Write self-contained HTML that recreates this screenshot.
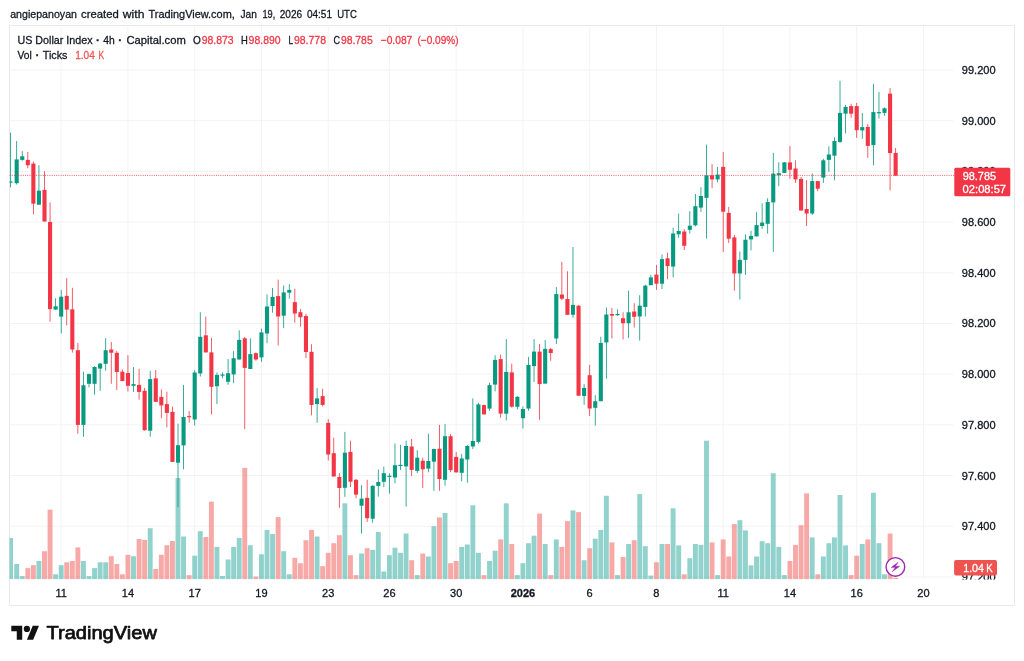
<!DOCTYPE html>
<html lang="en"><head><meta charset="utf-8"><title>US Dollar Index chart</title>
<style>html,body{margin:0;padding:0;background:#fff;}body{width:1024px;height:661px;overflow:hidden;position:relative;font-family:"Liberation Sans",sans-serif;}svg{filter:blur(.35px);position:absolute;left:0;top:0;display:block}text{font-family:"Liberation Sans",sans-serif;fill:#131722;stroke:#131722;stroke-width:.3px}</style>
</head><body>
<svg width="1024" height="661" viewBox="0 0 1024 661">
<rect x="0" y="0" width="1024" height="661" fill="#fff"/>
<defs><clipPath id="pane"><rect x="9.5" y="25.5" width="944" height="554"/></clipPath><clipPath id="pax"><rect x="950" y="25.5" width="64" height="553.9"/></clipPath></defs>
<g stroke="#f3f3f4" stroke-width="1" fill="none">
<line x1="9.5" x2="953" y1="70.00" y2="70.00"/>
<line x1="9.5" x2="953" y1="120.69" y2="120.69"/>
<line x1="9.5" x2="953" y1="171.38" y2="171.38"/>
<line x1="9.5" x2="953" y1="222.07" y2="222.07"/>
<line x1="9.5" x2="953" y1="272.76" y2="272.76"/>
<line x1="9.5" x2="953" y1="323.45" y2="323.45"/>
<line x1="9.5" x2="953" y1="374.14" y2="374.14"/>
<line x1="9.5" x2="953" y1="424.83" y2="424.83"/>
<line x1="9.5" x2="953" y1="475.52" y2="475.52"/>
<line x1="9.5" x2="953" y1="526.21" y2="526.21"/>
<line x1="9.5" x2="953" y1="576.90" y2="576.90"/>
<line x1="61.19" x2="61.19" y1="25.5" y2="579"/>
<line x1="127.94" x2="127.94" y1="25.5" y2="579"/>
<line x1="194.70" x2="194.70" y1="25.5" y2="579"/>
<line x1="261.45" x2="261.45" y1="25.5" y2="579"/>
<line x1="328.21" x2="328.21" y1="25.5" y2="579"/>
<line x1="389.40" x2="389.40" y1="25.5" y2="579"/>
<line x1="456.16" x2="456.16" y1="25.5" y2="579"/>
<line x1="522.92" x2="522.92" y1="25.5" y2="579"/>
<line x1="589.67" x2="589.67" y1="25.5" y2="579"/>
<line x1="656.43" x2="656.43" y1="25.5" y2="579"/>
<line x1="723.18" x2="723.18" y1="25.5" y2="579"/>
<line x1="789.94" x2="789.94" y1="25.5" y2="579"/>
<line x1="856.70" x2="856.70" y1="25.5" y2="579"/>
<line x1="923.45" x2="923.45" y1="25.5" y2="579"/>
</g>
<rect x="9.5" y="25.5" width="1005" height="580" fill="none" stroke="#eaeaec" stroke-width="1"/>
<g clip-path="url(#pane)">
<rect x="8.15" y="537.9" width="4.9" height="41.3" fill="rgba(38,166,154,0.5)"/>
<rect x="14.23" y="564.0" width="4.9" height="15.2" fill="rgba(38,166,154,0.5)"/>
<rect x="19.80" y="576.1" width="4.9" height="3.1" fill="rgba(38,166,154,0.5)"/>
<rect x="25.36" y="568.1" width="4.9" height="11.1" fill="rgba(239,83,80,0.5)"/>
<rect x="30.92" y="565.2" width="4.9" height="14.0" fill="rgba(239,83,80,0.5)"/>
<rect x="36.48" y="561.0" width="4.9" height="18.2" fill="rgba(38,166,154,0.5)"/>
<rect x="42.05" y="551.2" width="4.9" height="28.0" fill="rgba(239,83,80,0.5)"/>
<rect x="47.61" y="509.6" width="4.9" height="69.6" fill="rgba(239,83,80,0.5)"/>
<rect x="53.17" y="574.3" width="4.9" height="4.9" fill="rgba(38,166,154,0.5)"/>
<rect x="58.74" y="565.2" width="4.9" height="14.0" fill="rgba(38,166,154,0.5)"/>
<rect x="64.30" y="562.3" width="4.9" height="16.9" fill="rgba(239,83,80,0.5)"/>
<rect x="69.86" y="561.0" width="4.9" height="18.2" fill="rgba(239,83,80,0.5)"/>
<rect x="75.43" y="547.4" width="4.9" height="31.8" fill="rgba(239,83,80,0.5)"/>
<rect x="80.99" y="561.0" width="4.9" height="18.2" fill="rgba(38,166,154,0.5)"/>
<rect x="86.55" y="576.1" width="4.9" height="3.1" fill="rgba(38,166,154,0.5)"/>
<rect x="92.11" y="568.1" width="4.9" height="11.1" fill="rgba(38,166,154,0.5)"/>
<rect x="97.68" y="562.3" width="4.9" height="16.9" fill="rgba(38,166,154,0.5)"/>
<rect x="103.24" y="562.3" width="4.9" height="16.9" fill="rgba(38,166,154,0.5)"/>
<rect x="108.80" y="556.2" width="4.9" height="23.0" fill="rgba(239,83,80,0.5)"/>
<rect x="114.37" y="564.0" width="4.9" height="15.2" fill="rgba(239,83,80,0.5)"/>
<rect x="119.93" y="574.3" width="4.9" height="4.9" fill="rgba(239,83,80,0.5)"/>
<rect x="125.49" y="554.8" width="4.9" height="24.4" fill="rgba(239,83,80,0.5)"/>
<rect x="131.06" y="556.2" width="4.9" height="23.0" fill="rgba(38,166,154,0.5)"/>
<rect x="136.62" y="539.0" width="4.9" height="40.2" fill="rgba(239,83,80,0.5)"/>
<rect x="142.18" y="539.9" width="4.9" height="39.3" fill="rgba(239,83,80,0.5)"/>
<rect x="147.75" y="528.2" width="4.9" height="51.0" fill="rgba(38,166,154,0.5)"/>
<rect x="153.31" y="569.0" width="4.9" height="10.2" fill="rgba(239,83,80,0.5)"/>
<rect x="158.87" y="554.8" width="4.9" height="24.4" fill="rgba(239,83,80,0.5)"/>
<rect x="164.43" y="545.2" width="4.9" height="34.0" fill="rgba(239,83,80,0.5)"/>
<rect x="170.00" y="541.0" width="4.9" height="38.2" fill="rgba(239,83,80,0.5)"/>
<rect x="175.56" y="478.0" width="4.9" height="101.2" fill="rgba(38,166,154,0.5)"/>
<rect x="181.12" y="536.5" width="4.9" height="42.7" fill="rgba(38,166,154,0.5)"/>
<rect x="186.69" y="575.1" width="4.9" height="4.1" fill="rgba(239,83,80,0.5)"/>
<rect x="192.25" y="555.7" width="4.9" height="23.5" fill="rgba(38,166,154,0.5)"/>
<rect x="197.81" y="531.2" width="4.9" height="48.0" fill="rgba(38,166,154,0.5)"/>
<rect x="203.38" y="537.0" width="4.9" height="42.2" fill="rgba(239,83,80,0.5)"/>
<rect x="208.94" y="501.6" width="4.9" height="77.6" fill="rgba(239,83,80,0.5)"/>
<rect x="214.50" y="546.9" width="4.9" height="32.3" fill="rgba(38,166,154,0.5)"/>
<rect x="220.06" y="576.0" width="4.9" height="3.2" fill="rgba(38,166,154,0.5)"/>
<rect x="225.63" y="559.5" width="4.9" height="19.7" fill="rgba(38,166,154,0.5)"/>
<rect x="231.19" y="546.9" width="4.9" height="32.3" fill="rgba(38,166,154,0.5)"/>
<rect x="236.75" y="537.9" width="4.9" height="41.3" fill="rgba(38,166,154,0.5)"/>
<rect x="242.32" y="467.9" width="4.9" height="111.3" fill="rgba(239,83,80,0.5)"/>
<rect x="247.88" y="545.2" width="4.9" height="34.0" fill="rgba(38,166,154,0.5)"/>
<rect x="253.44" y="576.5" width="4.9" height="2.7" fill="rgba(239,83,80,0.5)"/>
<rect x="259.00" y="554.3" width="4.9" height="24.9" fill="rgba(38,166,154,0.5)"/>
<rect x="264.57" y="529.9" width="4.9" height="49.3" fill="rgba(38,166,154,0.5)"/>
<rect x="270.13" y="534.0" width="4.9" height="45.2" fill="rgba(38,166,154,0.5)"/>
<rect x="275.69" y="517.1" width="4.9" height="62.1" fill="rgba(239,83,80,0.5)"/>
<rect x="281.26" y="551.2" width="4.9" height="28.0" fill="rgba(38,166,154,0.5)"/>
<rect x="286.82" y="574.3" width="4.9" height="4.9" fill="rgba(38,166,154,0.5)"/>
<rect x="292.38" y="557.8" width="4.9" height="21.4" fill="rgba(239,83,80,0.5)"/>
<rect x="297.95" y="563.2" width="4.9" height="16.0" fill="rgba(239,83,80,0.5)"/>
<rect x="303.51" y="540.2" width="4.9" height="39.0" fill="rgba(239,83,80,0.5)"/>
<rect x="309.07" y="529.9" width="4.9" height="49.3" fill="rgba(239,83,80,0.5)"/>
<rect x="314.63" y="536.5" width="4.9" height="42.7" fill="rgba(38,166,154,0.5)"/>
<rect x="320.20" y="566.2" width="4.9" height="13.0" fill="rgba(239,83,80,0.5)"/>
<rect x="325.76" y="552.8" width="4.9" height="26.4" fill="rgba(239,83,80,0.5)"/>
<rect x="331.32" y="543.2" width="4.9" height="36.0" fill="rgba(239,83,80,0.5)"/>
<rect x="336.89" y="535.2" width="4.9" height="44.0" fill="rgba(239,83,80,0.5)"/>
<rect x="342.45" y="503.3" width="4.9" height="75.9" fill="rgba(38,166,154,0.5)"/>
<rect x="348.01" y="555.2" width="4.9" height="24.0" fill="rgba(239,83,80,0.5)"/>
<rect x="353.58" y="575.1" width="4.9" height="4.1" fill="rgba(239,83,80,0.5)"/>
<rect x="359.14" y="553.5" width="4.9" height="25.7" fill="rgba(38,166,154,0.5)"/>
<rect x="364.70" y="548.2" width="4.9" height="31.0" fill="rgba(239,83,80,0.5)"/>
<rect x="370.26" y="549.9" width="4.9" height="29.3" fill="rgba(38,166,154,0.5)"/>
<rect x="375.83" y="532.0" width="4.9" height="47.2" fill="rgba(38,166,154,0.5)"/>
<rect x="381.39" y="571.5" width="4.9" height="7.7" fill="rgba(38,166,154,0.5)"/>
<rect x="386.95" y="555.2" width="4.9" height="24.0" fill="rgba(38,166,154,0.5)"/>
<rect x="392.52" y="547.7" width="4.9" height="31.5" fill="rgba(38,166,154,0.5)"/>
<rect x="398.08" y="552.8" width="4.9" height="26.4" fill="rgba(38,166,154,0.5)"/>
<rect x="403.64" y="533.5" width="4.9" height="45.7" fill="rgba(38,166,154,0.5)"/>
<rect x="409.21" y="560.2" width="4.9" height="19.0" fill="rgba(239,83,80,0.5)"/>
<rect x="414.77" y="575.1" width="4.9" height="4.1" fill="rgba(38,166,154,0.5)"/>
<rect x="420.33" y="553.5" width="4.9" height="25.7" fill="rgba(239,83,80,0.5)"/>
<rect x="425.89" y="556.5" width="4.9" height="22.7" fill="rgba(38,166,154,0.5)"/>
<rect x="431.46" y="526.2" width="4.9" height="53.0" fill="rgba(38,166,154,0.5)"/>
<rect x="437.02" y="517.4" width="4.9" height="61.8" fill="rgba(239,83,80,0.5)"/>
<rect x="442.58" y="512.9" width="4.9" height="66.3" fill="rgba(38,166,154,0.5)"/>
<rect x="448.15" y="563.2" width="4.9" height="16.0" fill="rgba(239,83,80,0.5)"/>
<rect x="453.71" y="561.0" width="4.9" height="18.2" fill="rgba(239,83,80,0.5)"/>
<rect x="459.27" y="546.9" width="4.9" height="32.3" fill="rgba(38,166,154,0.5)"/>
<rect x="464.84" y="544.5" width="4.9" height="34.7" fill="rgba(38,166,154,0.5)"/>
<rect x="470.40" y="505.3" width="4.9" height="73.9" fill="rgba(38,166,154,0.5)"/>
<rect x="475.96" y="552.8" width="4.9" height="26.4" fill="rgba(38,166,154,0.5)"/>
<rect x="481.52" y="575.1" width="4.9" height="4.1" fill="rgba(239,83,80,0.5)"/>
<rect x="487.09" y="561.0" width="4.9" height="18.2" fill="rgba(38,166,154,0.5)"/>
<rect x="492.65" y="550.7" width="4.9" height="28.5" fill="rgba(38,166,154,0.5)"/>
<rect x="498.21" y="539.4" width="4.9" height="39.8" fill="rgba(239,83,80,0.5)"/>
<rect x="503.78" y="503.3" width="4.9" height="75.9" fill="rgba(38,166,154,0.5)"/>
<rect x="509.34" y="544.0" width="4.9" height="35.2" fill="rgba(239,83,80,0.5)"/>
<rect x="514.90" y="575.1" width="4.9" height="4.1" fill="rgba(38,166,154,0.5)"/>
<rect x="520.47" y="563.2" width="4.9" height="16.0" fill="rgba(38,166,154,0.5)"/>
<rect x="526.03" y="543.2" width="4.9" height="36.0" fill="rgba(38,166,154,0.5)"/>
<rect x="531.59" y="535.7" width="4.9" height="43.5" fill="rgba(38,166,154,0.5)"/>
<rect x="537.15" y="513.6" width="4.9" height="65.6" fill="rgba(239,83,80,0.5)"/>
<rect x="542.72" y="544.0" width="4.9" height="35.2" fill="rgba(38,166,154,0.5)"/>
<rect x="548.28" y="575.1" width="4.9" height="4.1" fill="rgba(239,83,80,0.5)"/>
<rect x="553.84" y="539.4" width="4.9" height="39.8" fill="rgba(38,166,154,0.5)"/>
<rect x="559.41" y="546.9" width="4.9" height="32.3" fill="rgba(239,83,80,0.5)"/>
<rect x="564.97" y="521.1" width="4.9" height="58.1" fill="rgba(239,83,80,0.5)"/>
<rect x="570.53" y="510.4" width="4.9" height="68.8" fill="rgba(38,166,154,0.5)"/>
<rect x="576.10" y="512.1" width="4.9" height="67.1" fill="rgba(239,83,80,0.5)"/>
<rect x="581.66" y="560.2" width="4.9" height="19.0" fill="rgba(38,166,154,0.5)"/>
<rect x="587.22" y="548.2" width="4.9" height="31.0" fill="rgba(239,83,80,0.5)"/>
<rect x="592.78" y="538.7" width="4.9" height="40.5" fill="rgba(38,166,154,0.5)"/>
<rect x="598.35" y="529.9" width="4.9" height="49.3" fill="rgba(38,166,154,0.5)"/>
<rect x="603.91" y="495.8" width="4.9" height="83.4" fill="rgba(38,166,154,0.5)"/>
<rect x="609.47" y="542.4" width="4.9" height="36.8" fill="rgba(239,83,80,0.5)"/>
<rect x="615.04" y="575.1" width="4.9" height="4.1" fill="rgba(38,166,154,0.5)"/>
<rect x="620.60" y="557.0" width="4.9" height="22.2" fill="rgba(239,83,80,0.5)"/>
<rect x="626.16" y="544.0" width="4.9" height="35.2" fill="rgba(38,166,154,0.5)"/>
<rect x="631.73" y="540.2" width="4.9" height="39.0" fill="rgba(239,83,80,0.5)"/>
<rect x="637.29" y="494.1" width="4.9" height="85.1" fill="rgba(38,166,154,0.5)"/>
<rect x="642.85" y="546.2" width="4.9" height="33.0" fill="rgba(38,166,154,0.5)"/>
<rect x="648.41" y="575.6" width="4.9" height="3.6" fill="rgba(38,166,154,0.5)"/>
<rect x="653.98" y="562.3" width="4.9" height="16.9" fill="rgba(239,83,80,0.5)"/>
<rect x="659.54" y="544.0" width="4.9" height="35.2" fill="rgba(38,166,154,0.5)"/>
<rect x="665.10" y="544.0" width="4.9" height="35.2" fill="rgba(239,83,80,0.5)"/>
<rect x="670.67" y="508.3" width="4.9" height="70.9" fill="rgba(38,166,154,0.5)"/>
<rect x="676.23" y="545.4" width="4.9" height="33.8" fill="rgba(38,166,154,0.5)"/>
<rect x="681.79" y="574.3" width="4.9" height="4.9" fill="rgba(239,83,80,0.5)"/>
<rect x="687.36" y="558.2" width="4.9" height="21.0" fill="rgba(38,166,154,0.5)"/>
<rect x="692.92" y="544.0" width="4.9" height="35.2" fill="rgba(38,166,154,0.5)"/>
<rect x="698.48" y="544.9" width="4.9" height="34.3" fill="rgba(38,166,154,0.5)"/>
<rect x="704.04" y="440.7" width="4.9" height="138.5" fill="rgba(38,166,154,0.5)"/>
<rect x="709.61" y="542.4" width="4.9" height="36.8" fill="rgba(239,83,80,0.5)"/>
<rect x="715.17" y="575.1" width="4.9" height="4.1" fill="rgba(38,166,154,0.5)"/>
<rect x="720.73" y="539.4" width="4.9" height="39.8" fill="rgba(239,83,80,0.5)"/>
<rect x="726.30" y="556.5" width="4.9" height="22.7" fill="rgba(239,83,80,0.5)"/>
<rect x="731.86" y="524.1" width="4.9" height="55.1" fill="rgba(239,83,80,0.5)"/>
<rect x="737.42" y="520.2" width="4.9" height="59.0" fill="rgba(38,166,154,0.5)"/>
<rect x="742.99" y="530.4" width="4.9" height="48.8" fill="rgba(38,166,154,0.5)"/>
<rect x="748.55" y="565.3" width="4.9" height="13.9" fill="rgba(38,166,154,0.5)"/>
<rect x="754.11" y="556.5" width="4.9" height="22.7" fill="rgba(38,166,154,0.5)"/>
<rect x="759.67" y="541.2" width="4.9" height="38.0" fill="rgba(38,166,154,0.5)"/>
<rect x="765.24" y="543.2" width="4.9" height="36.0" fill="rgba(38,166,154,0.5)"/>
<rect x="770.80" y="473.2" width="4.9" height="106.0" fill="rgba(38,166,154,0.5)"/>
<rect x="776.36" y="546.9" width="4.9" height="32.3" fill="rgba(38,166,154,0.5)"/>
<rect x="781.93" y="575.1" width="4.9" height="4.1" fill="rgba(38,166,154,0.5)"/>
<rect x="787.49" y="561.0" width="4.9" height="18.2" fill="rgba(239,83,80,0.5)"/>
<rect x="793.05" y="544.9" width="4.9" height="34.3" fill="rgba(239,83,80,0.5)"/>
<rect x="798.62" y="525.2" width="4.9" height="54.0" fill="rgba(239,83,80,0.5)"/>
<rect x="804.18" y="493.4" width="4.9" height="85.8" fill="rgba(239,83,80,0.5)"/>
<rect x="809.74" y="537.4" width="4.9" height="41.8" fill="rgba(38,166,154,0.5)"/>
<rect x="815.30" y="574.3" width="4.9" height="4.9" fill="rgba(239,83,80,0.5)"/>
<rect x="820.87" y="556.5" width="4.9" height="22.7" fill="rgba(38,166,154,0.5)"/>
<rect x="826.43" y="543.2" width="4.9" height="36.0" fill="rgba(38,166,154,0.5)"/>
<rect x="831.99" y="537.4" width="4.9" height="41.8" fill="rgba(38,166,154,0.5)"/>
<rect x="837.56" y="495.0" width="4.9" height="84.2" fill="rgba(38,166,154,0.5)"/>
<rect x="843.12" y="545.4" width="4.9" height="33.8" fill="rgba(38,166,154,0.5)"/>
<rect x="848.68" y="575.1" width="4.9" height="4.1" fill="rgba(239,83,80,0.5)"/>
<rect x="854.25" y="555.7" width="4.9" height="23.5" fill="rgba(239,83,80,0.5)"/>
<rect x="859.81" y="544.0" width="4.9" height="35.2" fill="rgba(38,166,154,0.5)"/>
<rect x="865.37" y="539.4" width="4.9" height="39.8" fill="rgba(239,83,80,0.5)"/>
<rect x="870.93" y="492.8" width="4.9" height="86.4" fill="rgba(38,166,154,0.5)"/>
<rect x="876.50" y="543.2" width="4.9" height="36.0" fill="rgba(38,166,154,0.5)"/>
<rect x="882.06" y="574.3" width="4.9" height="4.9" fill="rgba(38,166,154,0.5)"/>
<rect x="887.62" y="533.5" width="4.9" height="45.7" fill="rgba(239,83,80,0.5)"/>
<rect x="893.19" y="577.8" width="4.9" height="1.4" fill="rgba(239,83,80,0.5)"/>
<rect x="10.20" y="132.6" width="0.8" height="54.8" fill="#089981"/>
<rect x="8.55" y="181.4" width="4.1" height="1.2" fill="#089981"/>
<rect x="16.28" y="141.0" width="0.8" height="43.5" fill="#089981"/>
<rect x="14.63" y="159.4" width="4.1" height="23.8" fill="#089981"/>
<rect x="21.85" y="151.1" width="0.8" height="9.6" fill="#089981"/>
<rect x="20.20" y="156.3" width="4.1" height="3.6" fill="#089981"/>
<rect x="27.41" y="151.9" width="0.8" height="16.3" fill="#f23645"/>
<rect x="25.76" y="159.9" width="4.1" height="5.3" fill="#f23645"/>
<rect x="32.97" y="161.6" width="0.8" height="52.7" fill="#f23645"/>
<rect x="31.32" y="163.6" width="4.1" height="40.1" fill="#f23645"/>
<rect x="38.53" y="165.2" width="0.8" height="39.5" fill="#089981"/>
<rect x="36.88" y="190.7" width="4.1" height="14.0" fill="#089981"/>
<rect x="44.10" y="171.2" width="0.8" height="50.3" fill="#f23645"/>
<rect x="42.45" y="189.9" width="4.1" height="31.6" fill="#f23645"/>
<rect x="49.66" y="202.4" width="0.8" height="119.2" fill="#f23645"/>
<rect x="48.01" y="221.9" width="4.1" height="87.2" fill="#f23645"/>
<rect x="55.22" y="298.2" width="0.8" height="11.4" fill="#089981"/>
<rect x="53.57" y="306.3" width="4.1" height="3.3" fill="#089981"/>
<rect x="60.79" y="290.0" width="0.8" height="43.5" fill="#089981"/>
<rect x="59.14" y="296.7" width="4.1" height="19.9" fill="#089981"/>
<rect x="66.35" y="278.1" width="0.8" height="47.3" fill="#f23645"/>
<rect x="64.70" y="295.9" width="4.1" height="13.7" fill="#f23645"/>
<rect x="71.91" y="287.8" width="0.8" height="64.9" fill="#f23645"/>
<rect x="70.26" y="309.3" width="4.1" height="40.2" fill="#f23645"/>
<rect x="77.48" y="342.9" width="0.8" height="90.8" fill="#f23645"/>
<rect x="75.83" y="350.2" width="4.1" height="74.7" fill="#f23645"/>
<rect x="83.04" y="371.6" width="0.8" height="65.2" fill="#089981"/>
<rect x="81.39" y="385.3" width="4.1" height="39.6" fill="#089981"/>
<rect x="88.60" y="373.5" width="0.8" height="13.9" fill="#089981"/>
<rect x="86.95" y="374.1" width="4.1" height="9.7" fill="#089981"/>
<rect x="94.16" y="366.3" width="0.8" height="28.3" fill="#089981"/>
<rect x="92.52" y="367.0" width="4.1" height="16.8" fill="#089981"/>
<rect x="99.73" y="363.0" width="0.8" height="27.8" fill="#089981"/>
<rect x="98.08" y="363.6" width="4.1" height="5.0" fill="#089981"/>
<rect x="105.29" y="338.2" width="0.8" height="32.5" fill="#089981"/>
<rect x="103.64" y="350.2" width="4.1" height="13.6" fill="#089981"/>
<rect x="110.85" y="342.0" width="0.8" height="41.8" fill="#f23645"/>
<rect x="109.20" y="349.5" width="4.1" height="3.2" fill="#f23645"/>
<rect x="116.42" y="351.0" width="0.8" height="38.9" fill="#f23645"/>
<rect x="114.77" y="352.8" width="4.1" height="19.2" fill="#f23645"/>
<rect x="121.98" y="369.5" width="0.8" height="11.6" fill="#f23645"/>
<rect x="120.33" y="371.7" width="4.1" height="9.4" fill="#f23645"/>
<rect x="127.54" y="355.2" width="0.8" height="36.4" fill="#f23645"/>
<rect x="125.89" y="373.0" width="4.1" height="12.8" fill="#f23645"/>
<rect x="133.11" y="367.1" width="0.8" height="24.8" fill="#089981"/>
<rect x="131.46" y="384.1" width="4.1" height="1.7" fill="#089981"/>
<rect x="138.67" y="368.8" width="0.8" height="30.8" fill="#f23645"/>
<rect x="137.02" y="384.9" width="4.1" height="7.0" fill="#f23645"/>
<rect x="144.23" y="387.9" width="0.8" height="42.8" fill="#f23645"/>
<rect x="142.58" y="390.8" width="4.1" height="39.4" fill="#f23645"/>
<rect x="149.79" y="370.9" width="0.8" height="65.9" fill="#089981"/>
<rect x="148.14" y="379.1" width="4.1" height="51.6" fill="#089981"/>
<rect x="155.36" y="370.0" width="0.8" height="31.9" fill="#f23645"/>
<rect x="153.71" y="378.3" width="4.1" height="23.6" fill="#f23645"/>
<rect x="160.92" y="389.4" width="0.8" height="28.8" fill="#f23645"/>
<rect x="159.27" y="396.9" width="4.1" height="8.5" fill="#f23645"/>
<rect x="166.48" y="391.6" width="0.8" height="35.8" fill="#f23645"/>
<rect x="164.83" y="404.1" width="4.1" height="8.8" fill="#f23645"/>
<rect x="172.05" y="406.6" width="0.8" height="55.3" fill="#f23645"/>
<rect x="170.40" y="411.9" width="4.1" height="50.0" fill="#f23645"/>
<rect x="177.61" y="423.6" width="0.8" height="83.7" fill="#089981"/>
<rect x="175.96" y="445.2" width="4.1" height="17.5" fill="#089981"/>
<rect x="183.17" y="384.9" width="0.8" height="84.5" fill="#089981"/>
<rect x="181.52" y="417.0" width="4.1" height="28.4" fill="#089981"/>
<rect x="188.74" y="411.1" width="0.8" height="11.6" fill="#f23645"/>
<rect x="187.09" y="416.1" width="4.1" height="1.2" fill="#f23645"/>
<rect x="194.30" y="370.2" width="0.8" height="55.3" fill="#089981"/>
<rect x="192.65" y="372.5" width="4.1" height="47.0" fill="#089981"/>
<rect x="199.86" y="312.2" width="0.8" height="64.3" fill="#089981"/>
<rect x="198.21" y="336.8" width="4.1" height="36.7" fill="#089981"/>
<rect x="205.42" y="316.6" width="0.8" height="35.8" fill="#f23645"/>
<rect x="203.77" y="335.3" width="4.1" height="17.1" fill="#f23645"/>
<rect x="210.99" y="337.8" width="0.8" height="76.7" fill="#f23645"/>
<rect x="209.34" y="352.4" width="4.1" height="34.4" fill="#f23645"/>
<rect x="216.55" y="372.4" width="0.8" height="31.6" fill="#089981"/>
<rect x="214.90" y="374.9" width="4.1" height="11.3" fill="#089981"/>
<rect x="222.11" y="372.4" width="0.8" height="5.8" fill="#089981"/>
<rect x="220.46" y="374.5" width="4.1" height="1.2" fill="#089981"/>
<rect x="227.68" y="359.0" width="0.8" height="25.8" fill="#089981"/>
<rect x="226.03" y="373.2" width="4.1" height="8.6" fill="#089981"/>
<rect x="233.24" y="351.1" width="0.8" height="32.1" fill="#089981"/>
<rect x="231.59" y="358.2" width="4.1" height="16.2" fill="#089981"/>
<rect x="238.80" y="330.3" width="0.8" height="29.2" fill="#089981"/>
<rect x="237.15" y="339.9" width="4.1" height="19.6" fill="#089981"/>
<rect x="244.37" y="336.9" width="0.8" height="92.2" fill="#f23645"/>
<rect x="242.72" y="338.3" width="4.1" height="29.6" fill="#f23645"/>
<rect x="249.93" y="338.3" width="0.8" height="30.7" fill="#089981"/>
<rect x="248.28" y="354.1" width="4.1" height="14.9" fill="#089981"/>
<rect x="255.49" y="352.4" width="0.8" height="8.3" fill="#f23645"/>
<rect x="253.84" y="353.2" width="4.1" height="6.3" fill="#f23645"/>
<rect x="261.06" y="328.6" width="0.8" height="33.3" fill="#089981"/>
<rect x="259.40" y="332.4" width="4.1" height="25.0" fill="#089981"/>
<rect x="266.62" y="294.4" width="0.8" height="48.9" fill="#089981"/>
<rect x="264.97" y="306.5" width="4.1" height="27.0" fill="#089981"/>
<rect x="272.18" y="287.9" width="0.8" height="24.8" fill="#089981"/>
<rect x="270.53" y="296.9" width="4.1" height="9.1" fill="#089981"/>
<rect x="277.74" y="279.6" width="0.8" height="65.8" fill="#f23645"/>
<rect x="276.09" y="296.1" width="4.1" height="20.4" fill="#f23645"/>
<rect x="283.31" y="285.4" width="0.8" height="42.8" fill="#089981"/>
<rect x="281.66" y="292.4" width="4.1" height="23.3" fill="#089981"/>
<rect x="288.87" y="284.1" width="0.8" height="14.5" fill="#089981"/>
<rect x="287.22" y="289.9" width="4.1" height="2.8" fill="#089981"/>
<rect x="294.43" y="288.6" width="0.8" height="34.0" fill="#f23645"/>
<rect x="292.78" y="302.1" width="4.1" height="11.4" fill="#f23645"/>
<rect x="300.00" y="309.0" width="0.8" height="17.7" fill="#f23645"/>
<rect x="298.35" y="312.2" width="4.1" height="5.0" fill="#f23645"/>
<rect x="305.56" y="313.9" width="0.8" height="44.2" fill="#f23645"/>
<rect x="303.91" y="316.0" width="4.1" height="36.0" fill="#f23645"/>
<rect x="311.12" y="344.2" width="0.8" height="71.1" fill="#f23645"/>
<rect x="309.47" y="351.8" width="4.1" height="53.1" fill="#f23645"/>
<rect x="316.69" y="388.1" width="0.8" height="34.6" fill="#089981"/>
<rect x="315.03" y="398.4" width="4.1" height="5.6" fill="#089981"/>
<rect x="322.25" y="388.8" width="0.8" height="17.6" fill="#f23645"/>
<rect x="320.60" y="396.1" width="4.1" height="8.8" fill="#f23645"/>
<rect x="327.81" y="419.1" width="0.8" height="41.4" fill="#f23645"/>
<rect x="326.16" y="422.9" width="4.1" height="31.6" fill="#f23645"/>
<rect x="333.37" y="437.7" width="0.8" height="38.8" fill="#f23645"/>
<rect x="331.72" y="453.2" width="4.1" height="23.3" fill="#f23645"/>
<rect x="338.94" y="473.2" width="0.8" height="34.5" fill="#f23645"/>
<rect x="337.29" y="477.0" width="4.1" height="11.0" fill="#f23645"/>
<rect x="344.50" y="431.9" width="0.8" height="65.0" fill="#089981"/>
<rect x="342.85" y="452.7" width="4.1" height="35.1" fill="#089981"/>
<rect x="350.06" y="440.7" width="0.8" height="46.4" fill="#f23645"/>
<rect x="348.41" y="451.9" width="4.1" height="29.8" fill="#f23645"/>
<rect x="355.63" y="479.0" width="0.8" height="19.2" fill="#f23645"/>
<rect x="353.98" y="479.8" width="4.1" height="14.8" fill="#f23645"/>
<rect x="361.19" y="485.2" width="0.8" height="48.5" fill="#089981"/>
<rect x="359.54" y="498.6" width="4.1" height="7.1" fill="#089981"/>
<rect x="366.75" y="479.8" width="0.8" height="42.1" fill="#f23645"/>
<rect x="365.10" y="497.9" width="4.1" height="20.3" fill="#f23645"/>
<rect x="372.31" y="485.3" width="0.8" height="37.4" fill="#089981"/>
<rect x="370.66" y="485.8" width="4.1" height="32.9" fill="#089981"/>
<rect x="377.88" y="469.5" width="0.8" height="27.1" fill="#089981"/>
<rect x="376.23" y="482.0" width="4.1" height="3.9" fill="#089981"/>
<rect x="383.44" y="466.5" width="0.8" height="20.6" fill="#089981"/>
<rect x="381.79" y="473.2" width="4.1" height="8.6" fill="#089981"/>
<rect x="389.00" y="473.2" width="0.8" height="20.4" fill="#089981"/>
<rect x="387.35" y="475.7" width="4.1" height="1.2" fill="#089981"/>
<rect x="394.57" y="443.5" width="0.8" height="39.9" fill="#089981"/>
<rect x="392.92" y="465.2" width="4.1" height="12.3" fill="#089981"/>
<rect x="400.13" y="444.9" width="0.8" height="25.2" fill="#089981"/>
<rect x="398.48" y="464.8" width="4.1" height="1.2" fill="#089981"/>
<rect x="405.69" y="440.7" width="0.8" height="65.9" fill="#089981"/>
<rect x="404.04" y="446.0" width="4.1" height="20.4" fill="#089981"/>
<rect x="411.26" y="439.0" width="0.8" height="37.1" fill="#f23645"/>
<rect x="409.61" y="446.5" width="4.1" height="23.4" fill="#f23645"/>
<rect x="416.82" y="450.2" width="0.8" height="22.8" fill="#089981"/>
<rect x="415.17" y="457.7" width="4.1" height="13.2" fill="#089981"/>
<rect x="422.38" y="457.7" width="0.8" height="30.3" fill="#f23645"/>
<rect x="420.73" y="460.7" width="4.1" height="8.6" fill="#f23645"/>
<rect x="427.94" y="433.7" width="0.8" height="38.6" fill="#089981"/>
<rect x="426.29" y="461.0" width="4.1" height="7.6" fill="#089981"/>
<rect x="433.51" y="448.5" width="0.8" height="42.3" fill="#089981"/>
<rect x="431.86" y="449.0" width="4.1" height="12.7" fill="#089981"/>
<rect x="439.07" y="424.9" width="0.8" height="65.9" fill="#f23645"/>
<rect x="437.42" y="448.7" width="4.1" height="30.3" fill="#f23645"/>
<rect x="444.63" y="424.1" width="0.8" height="61.6" fill="#089981"/>
<rect x="442.98" y="436.2" width="4.1" height="43.6" fill="#089981"/>
<rect x="450.20" y="434.1" width="0.8" height="38.1" fill="#f23645"/>
<rect x="448.55" y="436.2" width="4.1" height="33.9" fill="#f23645"/>
<rect x="455.76" y="451.9" width="0.8" height="20.5" fill="#f23645"/>
<rect x="454.11" y="456.9" width="4.1" height="15.5" fill="#f23645"/>
<rect x="461.32" y="454.1" width="0.8" height="27.2" fill="#089981"/>
<rect x="459.67" y="458.5" width="4.1" height="14.3" fill="#089981"/>
<rect x="466.89" y="444.9" width="0.8" height="37.8" fill="#089981"/>
<rect x="465.24" y="446.0" width="4.1" height="13.5" fill="#089981"/>
<rect x="472.45" y="398.3" width="0.8" height="50.7" fill="#089981"/>
<rect x="470.80" y="441.0" width="4.1" height="5.5" fill="#089981"/>
<rect x="478.01" y="402.8" width="0.8" height="40.7" fill="#089981"/>
<rect x="476.36" y="404.4" width="4.1" height="37.5" fill="#089981"/>
<rect x="483.57" y="404.6" width="0.8" height="9.8" fill="#f23645"/>
<rect x="481.92" y="405.1" width="4.1" height="9.3" fill="#f23645"/>
<rect x="489.14" y="382.8" width="0.8" height="27.9" fill="#089981"/>
<rect x="487.49" y="385.1" width="4.1" height="23.5" fill="#089981"/>
<rect x="494.70" y="355.3" width="0.8" height="36.1" fill="#089981"/>
<rect x="493.05" y="359.9" width="4.1" height="24.7" fill="#089981"/>
<rect x="500.26" y="354.6" width="0.8" height="63.1" fill="#f23645"/>
<rect x="498.61" y="359.1" width="4.1" height="54.5" fill="#f23645"/>
<rect x="505.83" y="339.1" width="0.8" height="81.4" fill="#089981"/>
<rect x="504.18" y="371.9" width="4.1" height="41.8" fill="#089981"/>
<rect x="511.39" y="363.6" width="0.8" height="44.1" fill="#f23645"/>
<rect x="509.74" y="372.4" width="4.1" height="34.3" fill="#f23645"/>
<rect x="516.95" y="396.2" width="0.8" height="13.2" fill="#089981"/>
<rect x="515.30" y="396.8" width="4.1" height="10.0" fill="#089981"/>
<rect x="522.52" y="406.4" width="0.8" height="22.1" fill="#089981"/>
<rect x="520.87" y="409.0" width="4.1" height="9.2" fill="#089981"/>
<rect x="528.08" y="356.9" width="0.8" height="53.8" fill="#089981"/>
<rect x="526.43" y="364.9" width="4.1" height="43.6" fill="#089981"/>
<rect x="533.64" y="339.1" width="0.8" height="42.8" fill="#089981"/>
<rect x="531.99" y="351.6" width="4.1" height="14.5" fill="#089981"/>
<rect x="539.21" y="344.1" width="0.8" height="75.7" fill="#f23645"/>
<rect x="537.56" y="351.6" width="4.1" height="32.5" fill="#f23645"/>
<rect x="544.77" y="340.0" width="0.8" height="43.6" fill="#089981"/>
<rect x="543.12" y="348.8" width="4.1" height="34.8" fill="#089981"/>
<rect x="550.33" y="347.8" width="0.8" height="13.0" fill="#f23645"/>
<rect x="548.68" y="349.1" width="4.1" height="3.9" fill="#f23645"/>
<rect x="555.89" y="287.1" width="0.8" height="56.9" fill="#089981"/>
<rect x="554.24" y="294.0" width="4.1" height="44.5" fill="#089981"/>
<rect x="561.46" y="261.9" width="0.8" height="38.3" fill="#f23645"/>
<rect x="559.81" y="294.5" width="4.1" height="4.2" fill="#f23645"/>
<rect x="567.02" y="271.3" width="0.8" height="43.5" fill="#f23645"/>
<rect x="565.37" y="299.0" width="4.1" height="15.8" fill="#f23645"/>
<rect x="572.58" y="247.0" width="0.8" height="70.7" fill="#089981"/>
<rect x="570.93" y="304.9" width="4.1" height="9.9" fill="#089981"/>
<rect x="578.15" y="305.2" width="0.8" height="90.5" fill="#f23645"/>
<rect x="576.50" y="305.7" width="4.1" height="90.0" fill="#f23645"/>
<rect x="583.71" y="384.1" width="0.8" height="20.8" fill="#089981"/>
<rect x="582.06" y="387.9" width="4.1" height="8.1" fill="#089981"/>
<rect x="589.27" y="364.9" width="0.8" height="51.1" fill="#f23645"/>
<rect x="587.62" y="375.2" width="4.1" height="33.3" fill="#f23645"/>
<rect x="594.84" y="395.2" width="0.8" height="30.4" fill="#089981"/>
<rect x="593.19" y="401.2" width="4.1" height="6.6" fill="#089981"/>
<rect x="600.40" y="336.7" width="0.8" height="64.5" fill="#089981"/>
<rect x="598.75" y="342.9" width="4.1" height="58.3" fill="#089981"/>
<rect x="605.96" y="307.4" width="0.8" height="71.3" fill="#089981"/>
<rect x="604.31" y="314.5" width="4.1" height="27.9" fill="#089981"/>
<rect x="611.52" y="307.9" width="0.8" height="30.6" fill="#f23645"/>
<rect x="609.87" y="314.0" width="4.1" height="1.7" fill="#f23645"/>
<rect x="617.09" y="309.4" width="0.8" height="6.6" fill="#089981"/>
<rect x="615.44" y="314.0" width="4.1" height="1.2" fill="#089981"/>
<rect x="622.65" y="312.3" width="0.8" height="27.2" fill="#f23645"/>
<rect x="621.00" y="318.2" width="4.1" height="5.0" fill="#f23645"/>
<rect x="628.21" y="290.7" width="0.8" height="47.4" fill="#089981"/>
<rect x="626.56" y="312.3" width="4.1" height="10.9" fill="#089981"/>
<rect x="633.78" y="303.2" width="0.8" height="24.4" fill="#f23645"/>
<rect x="632.13" y="311.5" width="4.1" height="5.3" fill="#f23645"/>
<rect x="639.34" y="295.2" width="0.8" height="45.4" fill="#089981"/>
<rect x="637.69" y="305.7" width="4.1" height="10.8" fill="#089981"/>
<rect x="644.90" y="284.6" width="0.8" height="31.9" fill="#089981"/>
<rect x="643.25" y="285.7" width="4.1" height="21.2" fill="#089981"/>
<rect x="650.47" y="274.9" width="0.8" height="10.3" fill="#089981"/>
<rect x="648.82" y="277.4" width="4.1" height="7.8" fill="#089981"/>
<rect x="656.03" y="264.9" width="0.8" height="25.0" fill="#f23645"/>
<rect x="654.38" y="274.6" width="4.1" height="9.1" fill="#f23645"/>
<rect x="661.59" y="254.5" width="0.8" height="34.6" fill="#089981"/>
<rect x="659.94" y="259.1" width="4.1" height="24.6" fill="#089981"/>
<rect x="667.15" y="252.8" width="0.8" height="26.3" fill="#f23645"/>
<rect x="665.50" y="258.3" width="4.1" height="7.8" fill="#f23645"/>
<rect x="672.72" y="227.6" width="0.8" height="49.8" fill="#089981"/>
<rect x="671.07" y="233.5" width="4.1" height="33.1" fill="#089981"/>
<rect x="678.28" y="213.5" width="0.8" height="24.3" fill="#089981"/>
<rect x="676.63" y="231.0" width="4.1" height="3.3" fill="#089981"/>
<rect x="683.84" y="229.3" width="0.8" height="20.7" fill="#f23645"/>
<rect x="682.19" y="231.5" width="4.1" height="14.3" fill="#f23645"/>
<rect x="689.41" y="211.2" width="0.8" height="22.3" fill="#089981"/>
<rect x="687.76" y="225.7" width="4.1" height="4.1" fill="#089981"/>
<rect x="694.97" y="194.0" width="0.8" height="32.5" fill="#089981"/>
<rect x="693.32" y="206.2" width="4.1" height="19.1" fill="#089981"/>
<rect x="700.53" y="187.1" width="0.8" height="24.8" fill="#089981"/>
<rect x="698.88" y="196.0" width="4.1" height="11.6" fill="#089981"/>
<rect x="706.10" y="144.6" width="0.8" height="94.0" fill="#089981"/>
<rect x="704.45" y="175.4" width="4.1" height="22.5" fill="#089981"/>
<rect x="711.66" y="164.1" width="0.8" height="24.1" fill="#f23645"/>
<rect x="710.01" y="175.3" width="4.1" height="4.1" fill="#f23645"/>
<rect x="717.22" y="166.9" width="0.8" height="15.5" fill="#089981"/>
<rect x="715.57" y="174.6" width="4.1" height="4.8" fill="#089981"/>
<rect x="722.78" y="152.0" width="0.8" height="100.1" fill="#f23645"/>
<rect x="721.13" y="166.9" width="4.1" height="44.8" fill="#f23645"/>
<rect x="728.35" y="207.0" width="0.8" height="36.0" fill="#f23645"/>
<rect x="726.70" y="212.9" width="4.1" height="25.8" fill="#f23645"/>
<rect x="733.91" y="234.9" width="0.8" height="55.8" fill="#f23645"/>
<rect x="732.26" y="237.4" width="4.1" height="36.1" fill="#f23645"/>
<rect x="739.47" y="251.6" width="0.8" height="47.9" fill="#089981"/>
<rect x="737.82" y="259.9" width="4.1" height="13.6" fill="#089981"/>
<rect x="745.04" y="234.4" width="0.8" height="40.5" fill="#089981"/>
<rect x="743.39" y="239.7" width="4.1" height="20.2" fill="#089981"/>
<rect x="750.60" y="230.7" width="0.8" height="19.7" fill="#089981"/>
<rect x="748.95" y="235.9" width="4.1" height="3.5" fill="#089981"/>
<rect x="756.16" y="212.1" width="0.8" height="24.3" fill="#089981"/>
<rect x="754.51" y="225.1" width="4.1" height="11.3" fill="#089981"/>
<rect x="761.73" y="203.3" width="0.8" height="25.5" fill="#089981"/>
<rect x="760.08" y="222.6" width="4.1" height="3.4" fill="#089981"/>
<rect x="767.29" y="198.2" width="0.8" height="35.4" fill="#089981"/>
<rect x="765.64" y="202.0" width="4.1" height="21.8" fill="#089981"/>
<rect x="772.85" y="152.8" width="0.8" height="99.1" fill="#089981"/>
<rect x="771.20" y="173.6" width="4.1" height="28.8" fill="#089981"/>
<rect x="778.41" y="162.3" width="0.8" height="23.8" fill="#089981"/>
<rect x="776.76" y="173.2" width="4.1" height="2.0" fill="#089981"/>
<rect x="783.98" y="162.0" width="0.8" height="10.9" fill="#089981"/>
<rect x="782.33" y="162.4" width="4.1" height="10.5" fill="#089981"/>
<rect x="789.54" y="146.1" width="0.8" height="32.7" fill="#f23645"/>
<rect x="787.89" y="162.4" width="4.1" height="7.4" fill="#f23645"/>
<rect x="795.10" y="160.3" width="0.8" height="22.6" fill="#f23645"/>
<rect x="793.45" y="168.5" width="4.1" height="10.9" fill="#f23645"/>
<rect x="800.67" y="177.0" width="0.8" height="33.5" fill="#f23645"/>
<rect x="799.02" y="178.9" width="4.1" height="31.6" fill="#f23645"/>
<rect x="806.23" y="180.1" width="0.8" height="45.9" fill="#f23645"/>
<rect x="804.58" y="209.0" width="4.1" height="4.5" fill="#f23645"/>
<rect x="811.79" y="173.4" width="0.8" height="41.5" fill="#089981"/>
<rect x="810.14" y="181.1" width="4.1" height="32.4" fill="#089981"/>
<rect x="817.36" y="181.1" width="0.8" height="10.1" fill="#f23645"/>
<rect x="815.71" y="181.1" width="4.1" height="7.6" fill="#f23645"/>
<rect x="822.92" y="158.7" width="0.8" height="24.2" fill="#089981"/>
<rect x="821.27" y="160.3" width="4.1" height="17.3" fill="#089981"/>
<rect x="828.48" y="146.2" width="0.8" height="25.6" fill="#089981"/>
<rect x="826.83" y="154.5" width="4.1" height="5.4" fill="#089981"/>
<rect x="834.04" y="137.4" width="0.8" height="42.9" fill="#089981"/>
<rect x="832.39" y="141.0" width="4.1" height="14.7" fill="#089981"/>
<rect x="839.61" y="80.8" width="0.8" height="62.1" fill="#089981"/>
<rect x="837.96" y="112.9" width="4.1" height="29.0" fill="#089981"/>
<rect x="845.17" y="104.9" width="0.8" height="28.6" fill="#089981"/>
<rect x="843.52" y="106.9" width="4.1" height="6.8" fill="#089981"/>
<rect x="850.73" y="103.8" width="0.8" height="14.1" fill="#f23645"/>
<rect x="849.08" y="106.1" width="4.1" height="7.6" fill="#f23645"/>
<rect x="856.30" y="102.9" width="0.8" height="35.0" fill="#f23645"/>
<rect x="854.65" y="106.1" width="4.1" height="24.1" fill="#f23645"/>
<rect x="861.86" y="112.9" width="0.8" height="25.8" fill="#089981"/>
<rect x="860.21" y="127.1" width="4.1" height="3.3" fill="#089981"/>
<rect x="867.42" y="124.1" width="0.8" height="33.7" fill="#f23645"/>
<rect x="865.77" y="126.9" width="4.1" height="19.0" fill="#f23645"/>
<rect x="872.99" y="83.8" width="0.8" height="81.5" fill="#089981"/>
<rect x="871.34" y="112.1" width="4.1" height="33.0" fill="#089981"/>
<rect x="878.55" y="92.0" width="0.8" height="26.6" fill="#089981"/>
<rect x="876.90" y="112.1" width="4.1" height="1.2" fill="#089981"/>
<rect x="884.11" y="107.4" width="0.8" height="8.3" fill="#089981"/>
<rect x="882.46" y="108.3" width="4.1" height="4.6" fill="#089981"/>
<rect x="889.67" y="88.0" width="0.8" height="102.4" fill="#f23645"/>
<rect x="888.02" y="93.6" width="4.1" height="59.5" fill="#f23645"/>
<rect x="895.24" y="147.9" width="0.8" height="27.8" fill="#f23645"/>
<rect x="893.59" y="152.9" width="4.1" height="22.8" fill="#f23645"/>
</g>
<line x1="9.5" x2="954" y1="175.4" y2="175.4" stroke="#f23645" stroke-width="1" stroke-dasharray="1 1.22" stroke-opacity="0.8"/>
<g clip-path="url(#pax)">
<text x="961.8" y="74.00" font-size="11" textLength="33.8" lengthAdjust="spacingAndGlyphs">99.200</text>
<text x="961.8" y="124.69" font-size="11" textLength="33.8" lengthAdjust="spacingAndGlyphs">99.000</text>
<text x="961.8" y="175.38" font-size="11" textLength="33.8" lengthAdjust="spacingAndGlyphs">98.800</text>
<text x="961.8" y="226.07" font-size="11" textLength="33.8" lengthAdjust="spacingAndGlyphs">98.600</text>
<text x="961.8" y="276.76" font-size="11" textLength="33.8" lengthAdjust="spacingAndGlyphs">98.400</text>
<text x="961.8" y="327.45" font-size="11" textLength="33.8" lengthAdjust="spacingAndGlyphs">98.200</text>
<text x="961.8" y="378.14" font-size="11" textLength="33.8" lengthAdjust="spacingAndGlyphs">98.000</text>
<text x="961.8" y="428.83" font-size="11" textLength="33.8" lengthAdjust="spacingAndGlyphs">97.800</text>
<text x="961.8" y="479.52" font-size="11" textLength="33.8" lengthAdjust="spacingAndGlyphs">97.600</text>
<text x="961.8" y="530.21" font-size="11" textLength="33.8" lengthAdjust="spacingAndGlyphs">97.400</text>
<text x="961.8" y="580.90" font-size="11" textLength="33.8" lengthAdjust="spacingAndGlyphs">97.200</text>
</g>
<rect x="954.3" y="167.8" width="56" height="28.4" rx="1.5" fill="#f23645"/>
<text x="962.7" y="179.9" font-size="11" fill="#fff" style="fill:#fff;stroke:#fff" textLength="33.4" lengthAdjust="spacingAndGlyphs">98.785</text>
<text x="962.6" y="192.8" font-size="11" fill="#fff" style="fill:#fff;stroke:#fff" textLength="43.5" lengthAdjust="spacingAndGlyphs">02:08:57</text>
<rect x="954.1" y="560.1" width="42.9" height="15.4" rx="2" fill="#ef5350"/>
<text x="963.2" y="572.1" font-size="11.3" textLength="20.8" lengthAdjust="spacingAndGlyphs" style="fill:#fff;stroke:#fff">1.04</text>
<text x="986.3" y="572.1" font-size="11.3" textLength="6.4" lengthAdjust="spacingAndGlyphs" style="fill:#fff;stroke:#fff">K</text>
<text x="61.19" y="597.2" font-size="11" text-anchor="middle">11</text>
<text x="127.94" y="597.2" font-size="11" text-anchor="middle">14</text>
<text x="194.70" y="597.2" font-size="11" text-anchor="middle">17</text>
<text x="261.45" y="597.2" font-size="11" text-anchor="middle">19</text>
<text x="328.21" y="597.2" font-size="11" text-anchor="middle">23</text>
<text x="389.40" y="597.2" font-size="11" text-anchor="middle">26</text>
<text x="456.16" y="597.2" font-size="11" text-anchor="middle">30</text>
<text x="522.92" y="597.2" font-size="11" text-anchor="middle" font-weight="bold">2026</text>
<text x="589.67" y="597.2" font-size="11" text-anchor="middle">6</text>
<text x="656.43" y="597.2" font-size="11" text-anchor="middle">8</text>
<text x="723.18" y="597.2" font-size="11" text-anchor="middle">11</text>
<text x="789.94" y="597.2" font-size="11" text-anchor="middle">14</text>
<text x="856.70" y="597.2" font-size="11" text-anchor="middle">16</text>
<text x="923.45" y="597.2" font-size="11" text-anchor="middle">20</text>
<g transform="translate(895.4 566.9)"><circle r="9.3" fill="#fff" stroke="#9c27b0" stroke-width="1.4"/><path d="M2.9 -5 L-4.4 0.7 L-0.1 0.7 L-3.5 5.1 L4.5 -0.7 L0.1 -0.7 Z" fill="#9c27b0" stroke="#9c27b0" stroke-width="0.3" stroke-linejoin="round"/></g>
<text x="10.2" y="18.4" font-size="11.8" textLength="66.8" lengthAdjust="spacingAndGlyphs" style="fill:#131722;stroke:#131722">angiepanoyan</text>
<text x="81.1" y="18.4" font-size="11.8" textLength="37.7" lengthAdjust="spacingAndGlyphs" style="fill:#131722;stroke:#131722">created</text>
<text x="122.8" y="18.4" font-size="11.8" textLength="21.6" lengthAdjust="spacingAndGlyphs" style="fill:#131722;stroke:#131722">with</text>
<text x="148.5" y="18.4" font-size="11.8" textLength="86.3" lengthAdjust="spacingAndGlyphs" style="fill:#131722;stroke:#131722">TradingView.com,</text>
<text x="240.4" y="18.4" font-size="11.8" textLength="16.4" lengthAdjust="spacingAndGlyphs" style="fill:#131722;stroke:#131722">Jan</text>
<text x="262.4" y="18.4" font-size="11.8" textLength="12.8" lengthAdjust="spacingAndGlyphs" style="fill:#131722;stroke:#131722">19,</text>
<text x="279.7" y="18.4" font-size="11.8" textLength="22.5" lengthAdjust="spacingAndGlyphs" style="fill:#131722;stroke:#131722">2026</text>
<text x="306.9" y="18.4" font-size="11.8" textLength="25.1" lengthAdjust="spacingAndGlyphs" style="fill:#131722;stroke:#131722">04:51</text>
<text x="337.2" y="18.4" font-size="11.8" textLength="19.6" lengthAdjust="spacingAndGlyphs" style="fill:#131722;stroke:#131722">UTC</text>
<text x="17.5" y="43.7" font-size="11.5" textLength="75.0" lengthAdjust="spacingAndGlyphs" style="fill:#131722;stroke:#131722">US Dollar Index</text>
<text x="97.9" y="43.7" font-size="11.5" text-anchor="middle" font-weight="bold" style="fill:#131722;stroke:#131722">·</text>
<text x="103.3" y="43.7" font-size="11.5" textLength="11.5" lengthAdjust="spacingAndGlyphs" style="fill:#131722;stroke:#131722">4h</text>
<text x="120.1" y="43.7" font-size="11.5" text-anchor="middle" font-weight="bold" style="fill:#131722;stroke:#131722">·</text>
<text x="126.5" y="43.7" font-size="11.5" textLength="59.3" lengthAdjust="spacingAndGlyphs" style="fill:#131722;stroke:#131722">Capital.com</text>
<text x="193.1" y="43.7" font-size="11.5" textLength="7.8" lengthAdjust="spacingAndGlyphs" style="fill:#131722;stroke:#131722">O</text>
<text x="201.7" y="43.7" font-size="11.5" textLength="32.0" lengthAdjust="spacingAndGlyphs" style="fill:#f23645;stroke:#f23645">98.873</text>
<text x="240.9" y="43.7" font-size="11.5" textLength="6.8" lengthAdjust="spacingAndGlyphs" style="fill:#131722;stroke:#131722">H</text>
<text x="248.6" y="43.7" font-size="11.5" textLength="32.0" lengthAdjust="spacingAndGlyphs" style="fill:#f23645;stroke:#f23645">98.890</text>
<text x="288.4" y="43.7" font-size="11.5" textLength="4.7" lengthAdjust="spacingAndGlyphs" style="fill:#131722;stroke:#131722">L</text>
<text x="293.9" y="43.7" font-size="11.5" textLength="32.2" lengthAdjust="spacingAndGlyphs" style="fill:#f23645;stroke:#f23645">98.778</text>
<text x="333.5" y="43.7" font-size="11.5" textLength="6.5" lengthAdjust="spacingAndGlyphs" style="fill:#131722;stroke:#131722">C</text>
<text x="340.9" y="43.7" font-size="11.5" textLength="31.8" lengthAdjust="spacingAndGlyphs" style="fill:#f23645;stroke:#f23645">98.785</text>
<text x="380.7" y="43.7" font-size="11.5" textLength="31.6" lengthAdjust="spacingAndGlyphs" style="fill:#f23645;stroke:#f23645">−0.087</text>
<text x="417.5" y="43.7" font-size="11.5" textLength="41.0" lengthAdjust="spacingAndGlyphs" style="fill:#f23645;stroke:#f23645">(−0.09%)</text>
<text x="17.5" y="59.2" font-size="11.5" textLength="14.3" lengthAdjust="spacingAndGlyphs" style="fill:#131722;stroke:#131722">Vol</text>
<text x="37.4" y="59.2" font-size="11.5" text-anchor="middle" font-weight="bold" style="fill:#131722;stroke:#131722">·</text>
<text x="42.8" y="59.2" font-size="11.5" textLength="24.6" lengthAdjust="spacingAndGlyphs" style="fill:#131722;stroke:#131722">Ticks</text>
<text x="75.2" y="59.2" font-size="11.5" textLength="19.6" lengthAdjust="spacingAndGlyphs" style="fill:#ef5350;stroke:#ef5350">1.04</text>
<text x="98.6" y="59.2" font-size="11.5" textLength="5.6" lengthAdjust="spacingAndGlyphs" style="fill:#ef5350;stroke:#ef5350">K</text>
<g transform="translate(11.3 622.7) scale(0.78)" fill="#111"><path d="M14 22H7V11H0V4h14v18z"/><circle cx="20" cy="8" r="4"/><path d="M28 22h-8l7.5-18h8L28 22z"/></g>
<text x="46.5" y="639.4" font-size="18.6" textLength="110.4" lengthAdjust="spacingAndGlyphs" style="fill:#111;stroke:#111;stroke-width:0.75;stroke-linejoin:round">TradingView</text>
</svg>
</body></html>
